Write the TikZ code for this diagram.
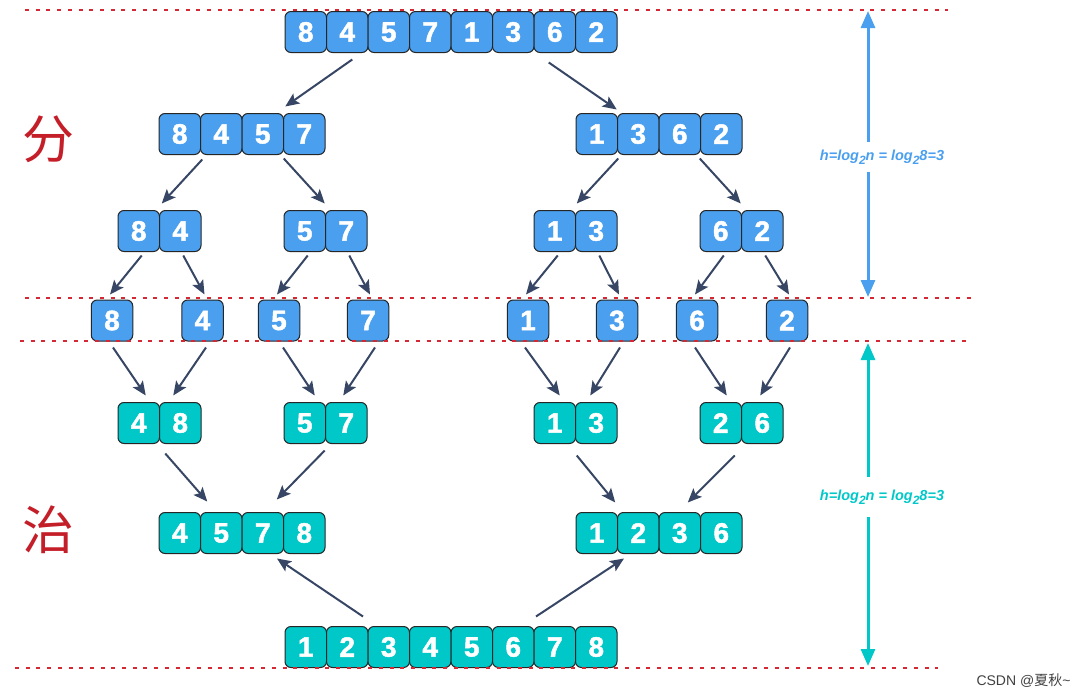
\documentclass[tikz,border=0pt]{standalone}
\usepackage{fontspec}
\setmainfont{Liberation Sans}
\newfontfamily\cjk{Noto Sans CJK SC}
\newfontfamily\digits{Liberation Sans Bold}[FakeBold=1.6]
\usetikzlibrary{arrows.meta}
\definecolor{cellblue}{RGB}{74,159,239}
\definecolor{cellteal}{RGB}{0,199,200}
\definecolor{arrowgray}{RGB}{55,70,100}
\definecolor{cutred}{RGB}{212,40,52}
\definecolor{sidered}{RGB}{196,30,40}
\tikzstyle{cell} = [rectangle, rounded corners=6pt, minimum width=41.5pt, minimum height=41pt, inner sep=0pt, draw=black!85, line width=1pt, text=white, font=\digits\fontsize{28}{28}\selectfont]
\tikzstyle{divide} = [cell, fill=cellblue]
\tikzstyle{merge} = [cell, fill=cellteal]
\tikzstyle{arrow} = [line width=2pt, arrowgray, -{Stealth[length=14pt,width=12pt,inset=3pt]}]
\tikzstyle{cut} = [cutred, line width=2pt, dash pattern=on 4pt off 6.7pt]
\tikzstyle{harrow} = [line width=3pt, -{Triangle[length=17pt,width=14pt]}]
\tikzstyle{hlabel} = [inner sep=0pt, font=\fontsize{14.5}{15}\selectfont\bfseries\itshape]
\tikzstyle{side} = [text=sidered, font=\cjk\fontsize{52}{52}\selectfont]
% one row of cells: name, left x, centre y, style, values
\newcommand{\cellrow}[5]{%
  \foreach \v [count=\i] in {#5}
    \node[#4] (#1\i) at ({#2+20.75+41.5*(\i-1)},#3) {\v};
}
\newcommand{\lowtwo}{\raisebox{-3.5pt}{\fontsize{12}{12}\selectfont 2}}
\begin{document}
\begin{tikzpicture}[x=1pt, y=-1pt]
\useasboundingbox (0,0) rectangle (1085,696);

% Divide
\cellrow{top}{285}{32}{divide}{8,4,5,7,1,3,6,2}
\cellrow{dl}{159}{134}{divide}{8,4,5,7}
\cellrow{dr}{576}{134}{divide}{1,3,6,2}
\cellrow{da}{118}{231}{divide}{8,4}
\cellrow{db}{284}{231}{divide}{5,7}
\cellrow{dc}{534}{231}{divide}{1,3}
\cellrow{dd}{700}{231}{divide}{6,2}
\foreach \x/\v [count=\i] in {112/8,202.5/4,279/5,368/7,528/1,617/3,697/6,787/2}
  \node[divide] (s\i) at (\x,320.5) {\v};

% Conquer
\cellrow{ca}{118}{423}{merge}{4,8}
\cellrow{cb}{284}{423}{merge}{5,7}
\cellrow{cc}{534}{423}{merge}{1,3}
\cellrow{cd}{700}{423}{merge}{2,6}
\cellrow{cl}{159}{533}{merge}{4,5,7,8}
\cellrow{cr}{576}{533}{merge}{1,2,3,6}
\cellrow{res}{285}{647}{merge}{1,2,3,4,5,6,7,8}

% Side labels
\node[side] (fen) at (48,139) {分};
\node[side] (zhi) at (48,530) {治};

% Arrows (divide)
\draw[arrow] ([xshift=5pt,yshift=-6.5pt]top2.south) -- ([xshift=-19pt,yshift=6.5pt]dl4.north);
\draw[arrow] ([xshift=-6pt,yshift=-9.5pt]top7.south) -- ([xshift=20pt,yshift=3.5pt]dr1.north);
\draw[arrow] ([xshift=-19pt,yshift=-4.5pt]dl2.south) -- ([xshift=23pt,yshift=6.5pt]da1.north);
\draw[arrow] ([xshift=21pt,yshift=-3.5pt]dl3.south) -- ([xshift=20pt,yshift=6.5pt]db1.north);
\draw[arrow] ([xshift=-20pt,yshift=-3.5pt]dr2.south) -- ([xshift=22pt,yshift=6.5pt]dc1.north);
\draw[arrow] ([xshift=20pt,yshift=-3.5pt]dr3.south) -- ([xshift=20pt,yshift=6.5pt]dd1.north);
\draw[arrow] ([xshift=3pt,yshift=-3.5pt]da1.south) -- ([xshift=-2pt,yshift=5pt]s1.north);
\draw[arrow] ([xshift=3pt,yshift=-3.5pt]da2.south) -- ([xshift=2pt,yshift=5pt]s2.north);
\draw[arrow] ([xshift=3pt,yshift=-3.5pt]db1.south) -- ([xshift=-2pt,yshift=5pt]s3.north);
\draw[arrow] ([xshift=3pt,yshift=-3.5pt]db2.south) -- ([xshift=2pt,yshift=5pt]s4.north);
\draw[arrow] ([xshift=3pt,yshift=-3.5pt]dc1.south) -- ([xshift=-2pt,yshift=5pt]s5.north);
\draw[arrow] ([xshift=3pt,yshift=-3.5pt]dc2.south) -- ([xshift=2pt,yshift=5pt]s6.north);
\draw[arrow] ([xshift=3pt,yshift=-3.5pt]dd1.south) -- ([xshift=-2pt,yshift=5pt]s7.north);
\draw[arrow] ([xshift=3pt,yshift=-3.5pt]dd2.south) -- ([xshift=2pt,yshift=5pt]s8.north);

% Arrows (conquer)
\draw[arrow] ([xshift=1pt,yshift=-6pt]s1.south) -- ([xshift=7pt,yshift=6.5pt]ca1.north);
\draw[arrow] ([xshift=3.5pt,yshift=-6pt]s2.south) -- ([xshift=-7pt,yshift=6.5pt]ca2.north);
\draw[arrow] ([xshift=4pt,yshift=-6pt]s3.south) -- ([xshift=10pt,yshift=6.5pt]cb1.north);
\draw[arrow] ([xshift=7pt,yshift=-6pt]s4.south) -- ([xshift=-3pt,yshift=6.5pt]cb2.north);
\draw[arrow] ([xshift=-3pt,yshift=-6pt]s5.south) -- ([xshift=5pt,yshift=6.5pt]cc1.north);
\draw[arrow] ([xshift=3pt,yshift=-6pt]s6.south) -- ([xshift=-6pt,yshift=6.5pt]cc2.north);
\draw[arrow] ([xshift=-2pt,yshift=-6pt]s7.south) -- ([xshift=6pt,yshift=6.5pt]cd1.north);
\draw[arrow] ([xshift=3pt,yshift=-6pt]s8.south) -- ([xshift=-2pt,yshift=6.5pt]cd2.north);
\draw[arrow] ([xshift=-15pt,yshift=-9.5pt]ca2.south) -- ([xshift=-14pt,yshift=10.5pt]cl2.north);
\draw[arrow] ([xshift=20pt,yshift=-6.5pt]cb1.south) -- ([xshift=14pt,yshift=12.5pt]cl3.north);
\draw[arrow] ([xshift=22pt,yshift=-11.5pt]cc1.south) -- ([xshift=-23pt,yshift=9.5pt]cr2.north);
\draw[arrow] ([xshift=14pt,yshift=-11.5pt]cd1.south) -- ([xshift=8pt,yshift=9.5pt]cr3.north);
\draw[arrow] ([xshift=15.75pt,yshift=9.5pt]res2.north) -- ([xshift=14.25pt,yshift=-4.5pt]cl3.south);
\draw[arrow] ([xshift=22.75pt,yshift=9.5pt]res6.north) -- ([xshift=-14.25pt,yshift=-4.5pt]cr2.south);

% Cut lines
\draw[cut] (25,10) -- (948,10);
\draw[cut] (25,298) -- (975,298);
\draw[cut] (20,341) -- (970,341);
\draw[cut] (15,668) -- (938,668);

% Height arrows
\node[hlabel, text=cellblue, minimum height=30pt] (hdiv) at (882,157) {h=log\lowtwo n = log\lowtwo 8=3};
\coordinate (hdivtop) at (868,11);
\coordinate (hdivbot) at (868,297);
\draw[harrow, cellblue] (hdiv.north -| hdivtop) -- (hdivtop);
\draw[harrow, cellblue] (hdiv.south -| hdivbot) -- (hdivbot);
\node[hlabel, text=cellteal, minimum height=40pt] (hcon) at (882,497) {h=log\lowtwo n = log\lowtwo 8=3};
\coordinate (hcontop) at (868,343);
\coordinate (hconbot) at (868,666);
\draw[harrow, cellteal] (hcon.north -| hcontop) -- (hcontop);
\draw[harrow, cellteal] (hcon.south -| hconbot) -- (hconbot);

% Watermark
\node[anchor=west, text=black!75, font=\fontsize{14}{14}\selectfont] (mark) at (973,681) {CSDN @{\cjk 夏秋}\textasciitilde};

\end{tikzpicture}
\end{document}
